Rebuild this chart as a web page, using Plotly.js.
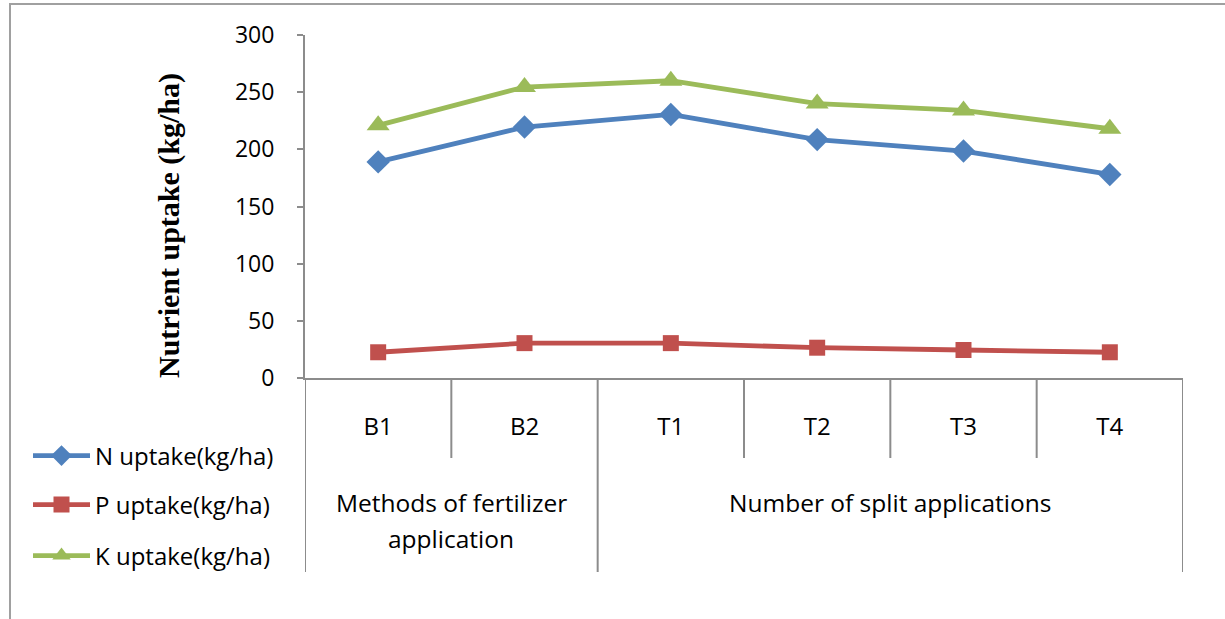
<!DOCTYPE html>
<html>
<head>
<meta charset="utf-8">
<script src="https://cdn.plot.ly/plotly-3.0.1.min.js"></script>
<style>
  html, body { margin: 0; padding: 0; background: #ffffff; }
  #chart { width: 1225px; height: 619px; }
</style>
</head>
<body>
<div id="chart"></div>
<script>
// ---- data ----
const categories = ['B1', 'B2', 'T1', 'T2', 'T3', 'T4'];
const groupNames = [['Methods of fertilizer', 'application'], ['Number of split applications']];
const groupSizes = [2, 4];
const nUptake = [189, 219.5, 230.5, 208.5, 198.5, 178];
const pUptake = [22.5, 30.5, 30.5, 26.5, 24.5, 22.5];
const kUptake = [221, 254.5, 260, 240, 234, 218];
const yTicks = [0, 50, 100, 150, 200, 250, 300];

const font = '"Open Sans", Lato, sans-serif';
const textColor = '#000000';
const axisColor = '#8c8c8c';

function trace(name, y, color, symbol, size, legend) {
  return {
    type: 'scatter', mode: 'lines+markers', name: name,
    x: categories, y: y,
    line: { color: color, width: 4.8 },
    marker: { color: color, symbol: symbol, size: size },
    legend: legend,
    hoverinfo: 'x+y'
  };
}

const data = [
  trace('N uptake(kg/ha)', nUptake, '#4F81BD', 'diamond', 18, 'legend'),
  trace('P uptake(kg/ha)', pUptake, '#C0504D', 'square', 16, 'legend2'),
  trace('K uptake(kg/ha)', kUptake, '#9BBB59', 'triangle-up', 20, 'legend3')
];

// plot area geometry (pixels) used for paper conversions
const W = 1225, H = 619;
const L = 305, R = 1183, T = 35, B = 378;
const px = v => (v - L) / (R - L);
const py = v => (B - v) / (B - T);

const shapes = [];
// category dividers
const shortY = py(458), longY = py(572);
let boundaries = [0];
groupSizes.forEach(s => boundaries.push(boundaries[boundaries.length - 1] + s));
for (let i = 0; i <= categories.length; i++) {
  const isGroup = boundaries.indexOf(i) >= 0;
  shapes.push({
    type: 'line', xref: 'x', yref: 'paper',
    x0: i - 0.5, x1: i - 0.5, y0: 0, y1: isGroup ? longY : shortY,
    line: { color: axisColor, width: 2 }
  });
}
// outer chart frame
shapes.push({
  type: 'rect', xref: 'paper', yref: 'paper',
  x0: px(10), x1: px(1300), y0: py(700), y1: py(4),
  line: { color: '#a0a0a0', width: 2 }, fillcolor: 'rgba(0,0,0,0)', layer: 'below'
});

const annotations = [];
// group labels (one annotation per line, 35px line spacing)
for (let g = 0; g < groupNames.length; g++) {
  const mid = (boundaries[g] + boundaries[g + 1] - 1) / 2;
  groupNames[g].forEach((line, k) => {
    annotations.push({
      xref: 'x', yref: 'paper', x: mid, y: py(503 + 35 * k), yanchor: 'middle', xanchor: 'center',
      text: line, showarrow: false,
      font: { family: font, size: 24.5, color: textColor }, align: 'center'
    });
  });
}
// y axis title
annotations.push({
  xref: 'paper', yref: 'paper', x: px(169), y: py(226), xanchor: 'center', yanchor: 'middle',
  text: '<b>Nutrient uptake (kg/ha)</b>', textangle: -90, showarrow: false,
  font: { family: '"Liberation Serif", "Times New Roman", serif', size: 30, color: '#000000' }
});

const legendCommon = {
  xref: 'paper', yref: 'paper', xanchor: 'left', yanchor: 'middle',
  bgcolor: 'rgba(0,0,0,0)', borderwidth: 0, itemwidth: 57,
  font: { family: font, size: 24, color: textColor }, itemclick: false, itemdoubleclick: false
};

const layout = {
  width: W, height: H,
  margin: { l: L, r: W - R, t: T, b: H - B, pad: 0 },
  paper_bgcolor: '#ffffff', plot_bgcolor: '#ffffff',
  showlegend: true,
  legend: Object.assign({}, legendCommon, { x: px(28), y: py(456) }),
  legend2: Object.assign({}, legendCommon, { x: px(28), y: py(505) }),
  legend3: Object.assign({}, legendCommon, { x: px(28), y: py(556) }),
  xaxis: {
    type: 'category', range: [-0.5, categories.length - 0.5],
    showline: true, linecolor: axisColor, linewidth: 2,
    showgrid: false, zeroline: false, ticks: '',
    ticklabelstandoff: 26,
    tickfont: { family: font, size: 24, color: textColor },
    fixedrange: true
  },
  yaxis: {
    range: [0, 300], tickvals: yTicks, ticktext: yTicks.map(String),
    showline: true, linecolor: axisColor, linewidth: 2,
    showgrid: false, zeroline: false,
    ticks: 'outside', ticklen: 6, tickwidth: 2, tickcolor: axisColor,
    ticklabelstandoff: 18,
    tickfont: { family: font, size: 23, color: textColor },
    fixedrange: true
  },
  shapes: shapes,
  annotations: annotations
};

Plotly.newPlot('chart', data, layout, { displayModeBar: false, staticPlot: true });
</script>
</body>
</html>
